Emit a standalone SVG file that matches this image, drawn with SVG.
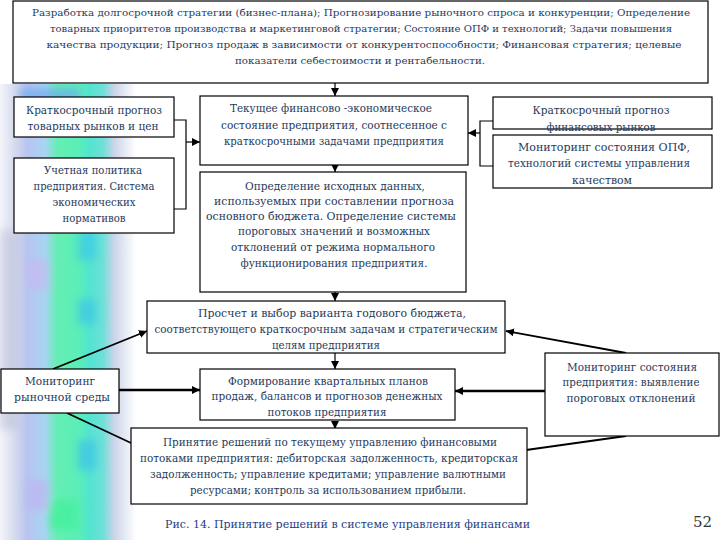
<svg xmlns="http://www.w3.org/2000/svg" width="720" height="540" viewBox="0 0 720 540">
<defs>
<linearGradient id="stripe" x1="0" y1="0" x2="1" y2="0">
<stop offset="0" stop-color="#f4f4fa"/>
<stop offset="0.1" stop-color="#d8dcee"/>
<stop offset="0.2" stop-color="#b8c4f0"/>
<stop offset="0.33" stop-color="#a8d4f2"/>
<stop offset="0.42" stop-color="#66eeb4"/>
<stop offset="0.58" stop-color="#5aeeb8"/>
<stop offset="0.66" stop-color="#52e4d0"/>
<stop offset="0.76" stop-color="#70e0d8"/>
<stop offset="0.84" stop-color="#ccd4ea"/>
<stop offset="1" stop-color="#ffffff"/>
</linearGradient>
<filter id="blur" x="-0.2" y="-0.2" width="1.4" height="1.4"><feGaussianBlur stdDeviation="4"/></filter>
<marker id="ah" viewBox="0 0 10 10" refX="10" refY="5" markerWidth="8" markerHeight="8" markerUnits="userSpaceOnUse" orient="auto">
<path d="M0,0 L10,5 L0,10 z" fill="#000"/>
</marker>
<style>
.box{fill:#fff;stroke:#000;stroke-width:1.2}
text{font-family:'DejaVu Serif','Liberation Serif','Noto Serif',serif}
.t{font-size:10.5px;fill:#1f3a5c;text-anchor:middle}
.s{font-size:9.8px}
.c{fill:none;stroke:#000;stroke-width:1.2}
.d{fill:none;stroke:#000;stroke-width:1.8}
.h{fill:none;stroke:#000;stroke-width:2.6}
.cap{font-size:11.5px;fill:#1e3c86}
</style>
</defs>

<g id="background">
<rect x="0" y="84" width="136" height="456" fill="url(#stripe)"/>
<g filter="url(#blur)" opacity="0.7">
<rect x="20" y="88" width="60" height="14" fill="#6aa8f0"/>
<rect x="78" y="230" width="18" height="30" fill="#3cc8e8"/>
<rect x="28" y="260" width="20" height="30" fill="#c8b8f0"/>
<rect x="78" y="300" width="18" height="24" fill="#3cc4e8"/>
<rect x="78" y="440" width="18" height="30" fill="#40c0ea"/>
<rect x="28" y="480" width="20" height="30" fill="#c0b4f0"/>
<rect x="0" y="230" width="20" height="200" fill="#c4c8de"/>
<rect x="50" y="500" width="28" height="30" fill="#40f098"/>
</g>
</g>

<g id="connectors">
<line class="c" x1="335" y1="83" x2="335" y2="96" marker-end="url(#ah)"/>
<polyline class="c" points="174,120 186,120 186,209 174,209"/>
<line class="c" x1="186" y1="142" x2="200" y2="142" marker-end="url(#ah)"/>
<polyline class="c" points="493,121 480,121 480,166 493,166"/>
<line class="c" x1="480" y1="133" x2="468" y2="133" marker-end="url(#ah)"/>
<line class="c" x1="335" y1="165" x2="335" y2="172" marker-end="url(#ah)"/>
<line class="c" x1="335" y1="292" x2="335" y2="301" marker-end="url(#ah)"/>
<line class="c" x1="335" y1="353" x2="335" y2="369" marker-end="url(#ah)"/>
<line class="c" x1="335" y1="421" x2="335" y2="429" marker-end="url(#ah)"/>
<line class="d" x1="53" y1="369" x2="147" y2="331" marker-end="url(#ah)"/>
<line class="h" x1="119" y1="390" x2="200" y2="390" marker-end="url(#ah)"/>
<line class="d" x1="67" y1="413" x2="146" y2="450" marker-end="url(#ah)"/>
<line class="d" x1="626" y1="353" x2="506" y2="331" marker-end="url(#ah)"/>
<line class="h" x1="545" y1="391" x2="455" y2="391" marker-end="url(#ah)"/>
<line class="d" x1="626" y1="436" x2="519" y2="451" marker-end="url(#ah)"/>
</g>

<g id="n-top">
<rect class="box" x="13" y="1" width="695" height="82"/>
<text class="t s" x="361" y="16" textLength="658" lengthAdjust="spacingAndGlyphs">Разработка долгосрочной стратегии (бизнес-плана); Прогнозирование рыночного спроса и конкуренции; Определение</text>
<text class="t s" x="361" y="32" textLength="622" lengthAdjust="spacingAndGlyphs">товарных приоритетов производства и маркетинговой стратегии; Состояние ОПФ и технологий; Задачи повышения</text>
<text class="t s" x="364" y="48" textLength="635" lengthAdjust="spacingAndGlyphs">качества продукции; Прогноз продаж в зависимости от конкурентоспособности; Финансовая стратегия; целевые</text>
<text class="t s" x="360" y="64" textLength="250" lengthAdjust="spacingAndGlyphs">показатели себестоимости и рентабельности.</text>
</g>

<g id="n-left1">
<rect class="box" x="14" y="97" width="160" height="40"/>
<text class="t" x="94" y="114" textLength="136" lengthAdjust="spacingAndGlyphs">Краткосрочный прогноз</text>
<text class="t" x="93" y="130" textLength="131" lengthAdjust="spacingAndGlyphs">товарных рынков и цен</text>
</g>

<g id="n-left2">
<rect class="box" x="14" y="158" width="160" height="75"/>
<text class="t" x="93" y="174" textLength="98" lengthAdjust="spacingAndGlyphs">Учетная политика</text>
<text class="t" x="94" y="190" textLength="121" lengthAdjust="spacingAndGlyphs">предприятия. Система</text>
<text class="t" x="94" y="206" textLength="83" lengthAdjust="spacingAndGlyphs">экономических</text>
<text class="t" x="94" y="222" textLength="63" lengthAdjust="spacingAndGlyphs">нормативов</text>
</g>

<g id="n-mid1">
<rect class="box" x="200" y="96" width="268" height="69"/>
<text class="t" x="331" y="112" textLength="202" lengthAdjust="spacingAndGlyphs">Текущее финансово -экономическое</text>
<text class="t" x="334" y="129" textLength="226" lengthAdjust="spacingAndGlyphs">состояние предприятия, соотнесенное с</text>
<text class="t" x="334" y="145" textLength="220" lengthAdjust="spacingAndGlyphs">краткосрочными задачами предприятия</text>
</g>

<g id="n-mid2">
<rect class="box" x="200" y="172" width="266" height="120"/>
<text class="t" x="335" y="190" textLength="180" lengthAdjust="spacingAndGlyphs">Определение исходных данных,</text>
<text class="t" x="334" y="205" textLength="240" lengthAdjust="spacingAndGlyphs">используемых при составлении прогноза</text>
<text class="t" x="331" y="220" textLength="250" lengthAdjust="spacingAndGlyphs">основного бюджета. Определение системы</text>
<text class="t" x="334" y="235" textLength="192" lengthAdjust="spacingAndGlyphs">пороговых значений и возможных</text>
<text class="t" x="333" y="251" textLength="204" lengthAdjust="spacingAndGlyphs">отклонений от режима нормального</text>
<text class="t" x="334" y="267" textLength="187" lengthAdjust="spacingAndGlyphs">функционирования предприятия.</text>
</g>

<g id="n-right1">
<rect class="box" x="493" y="97" width="219" height="32"/>
<text class="t" x="601" y="114" textLength="137" lengthAdjust="spacingAndGlyphs">Краткосрочный прогноз</text>
<text class="t" x="601" y="131" textLength="109" lengthAdjust="spacingAndGlyphs">финансовых рынков</text>
</g>

<g id="n-right2">
<rect class="box" x="493" y="135" width="219" height="53"/>
<text class="t" x="604" y="151" textLength="172" lengthAdjust="spacingAndGlyphs">Мониторинг состояния ОПФ,</text>
<text class="t" x="599" y="167" textLength="182" lengthAdjust="spacingAndGlyphs">технологий системы управления</text>
<text class="t" x="602" y="184" textLength="60" lengthAdjust="spacingAndGlyphs">качеством</text>
</g>

<g id="n-budget">
<rect class="box" x="147" y="301" width="358" height="52"/>
<text class="t" x="332" y="317" textLength="268" lengthAdjust="spacingAndGlyphs">Просчет и выбор варианта годового бюджета,</text>
<text class="t" x="326" y="333" textLength="343" lengthAdjust="spacingAndGlyphs">соответствующего краткосрочным задачам и стратегическим</text>
<text class="t" x="326" y="349" textLength="108" lengthAdjust="spacingAndGlyphs">целям предприятия</text>
</g>

<g id="n-market">
<rect class="box" x="1" y="369" width="118" height="44"/>
<text class="t" x="60" y="385" textLength="70" lengthAdjust="spacingAndGlyphs">Мониторинг</text>
<text class="t" x="62" y="401" textLength="96" lengthAdjust="spacingAndGlyphs">рыночной среды</text>
</g>

<g id="n-plans">
<rect class="box" x="200" y="369" width="255" height="51"/>
<text class="t" x="328" y="385" textLength="200" lengthAdjust="spacingAndGlyphs">Формирование квартальных планов</text>
<text class="t" x="327" y="400" textLength="231" lengthAdjust="spacingAndGlyphs">продаж, балансов и прогнозов денежных</text>
<text class="t" x="327" y="416" textLength="119" lengthAdjust="spacingAndGlyphs">потоков предприятия</text>
</g>

<g id="n-state">
<rect class="box" x="545" y="353" width="174" height="83"/>
<text class="t" x="632" y="371" textLength="130" lengthAdjust="spacingAndGlyphs">Мониторинг состояния</text>
<text class="t" x="631" y="386" textLength="137" lengthAdjust="spacingAndGlyphs">предприятия: выявление</text>
<text class="t" x="631" y="402" textLength="129" lengthAdjust="spacingAndGlyphs">пороговых отклонений</text>
</g>

<g id="n-decision">
<rect class="box" x="131" y="428" width="396" height="76"/>
<text class="t" x="330" y="446" textLength="334" lengthAdjust="spacingAndGlyphs">Принятие решений по текущему управлению финансовыми</text>
<text class="t" x="329" y="462" textLength="378" lengthAdjust="spacingAndGlyphs">потоками предприятия: дебиторская задолженность, кредиторская</text>
<text class="t" x="328" y="478" textLength="356" lengthAdjust="spacingAndGlyphs">задолженность; управление кредитами; управление валютными</text>
<text class="t" x="328" y="494" textLength="276" lengthAdjust="spacingAndGlyphs">ресурсами; контроль за использованием прибыли.</text>
</g>

<g id="caption">
<text class="cap" x="165" y="528" textLength="365" lengthAdjust="spacingAndGlyphs">Рис. 14. Принятие решений в системе управления финансами</text>
<text x="693" y="527" font-size="15px" fill="#333">52</text>
</g>
</svg>
